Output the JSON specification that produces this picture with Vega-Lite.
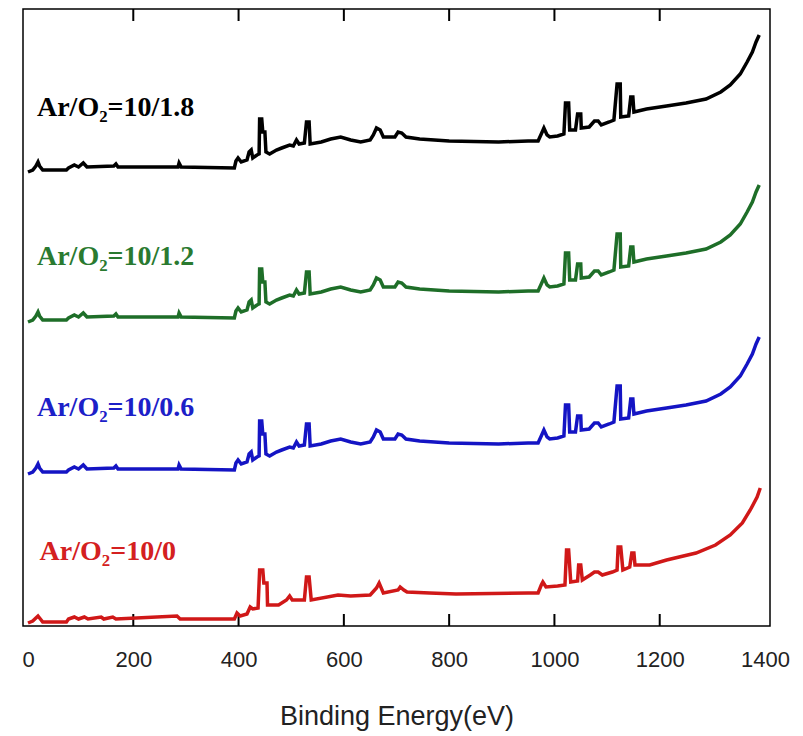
{
  "$schema": "https://vega.github.io/schema/vega-lite/v6.json",
  "width": 747,
  "height": 617,
  "autosize": {"type": "none"},
  "padding": {"left": 23, "top": 9, "right": 33, "bottom": 110},
  "background": "white",
  "config": {
    "view": {"stroke": "#000000", "strokeWidth": 1.5},
    "axis": {
      "domain": false,
      "grid": false,
      "ticks": false,
      "labelFont": "Liberation Sans",
      "labelFontSize": 22,
      "labelColor": "#222222",
      "titleFont": "Liberation Sans",
      "titleFontSize": 27,
      "titleFontWeight": "normal",
      "titleColor": "#222222"
    }
  },
  "datasets": {
    "s18": [{"e":0,"i":454},{"e":9,"i":456},{"e":15,"i":460},{"e":19,"i":464},{"e":22,"i":460},{"e":28,"i":456},{"e":73,"i":456},{"e":77,"i":458},{"e":88,"i":461},{"e":96,"i":459},{"e":105,"i":463},{"e":112,"i":459},{"e":163,"i":460},{"e":167,"i":462},{"e":171,"i":459},{"e":285,"i":459},{"e":287,"i":463},{"e":291,"i":459},{"e":392,"i":458},{"e":395,"i":465},{"e":399,"i":468},{"e":405,"i":464},{"e":416,"i":466},{"e":420,"i":474},{"e":424,"i":476},{"e":427,"i":468},{"e":435,"i":471},{"e":439,"i":472},{"e":440,"i":507},{"e":444,"i":507},{"e":446,"i":494},{"e":450,"i":494},{"e":452,"i":474},{"e":459,"i":472},{"e":472,"i":476},{"e":482,"i":478},{"e":497,"i":481},{"e":504,"i":480},{"e":510,"i":486},{"e":515,"i":482},{"e":525,"i":483},{"e":529,"i":504},{"e":534,"i":504},{"e":536,"i":482},{"e":557,"i":484},{"e":575,"i":487},{"e":594,"i":489},{"e":613,"i":486},{"e":632,"i":484},{"e":650,"i":486},{"e":656,"i":491},{"e":662,"i":498},{"e":669,"i":496},{"e":675,"i":489},{"e":697,"i":489},{"e":703,"i":494},{"e":710,"i":493},{"e":718,"i":489},{"e":744,"i":487},{"e":800,"i":485},{"e":894,"i":484},{"e":950,"i":485},{"e":969,"i":485},{"e":975,"i":492},{"e":980,"i":498},{"e":986,"i":491},{"e":991,"i":489},{"e":1006,"i":490},{"e":1018,"i":492},{"e":1021,"i":523},{"e":1027,"i":523},{"e":1029,"i":496},{"e":1040,"i":496},{"e":1044,"i":512},{"e":1050,"i":512},{"e":1051,"i":498},{"e":1066,"i":499},{"e":1076,"i":505},{"e":1083,"i":505},{"e":1089,"i":501},{"e":1104,"i":504},{"e":1113,"i":506},{"e":1119,"i":542},{"e":1125,"i":542},{"e":1126,"i":509},{"e":1141,"i":510},{"e":1145,"i":529},{"e":1149,"i":529},{"e":1151,"i":514},{"e":1175,"i":517},{"e":1213,"i":520},{"e":1250,"i":523},{"e":1288,"i":527},{"e":1316,"i":534},{"e":1334,"i":541},{"e":1353,"i":552},{"e":1366,"i":564},{"e":1376,"i":574},{"e":1383,"i":584},{"e":1389,"i":591}],
    "s12": [{"e":0,"i":304},{"e":9,"i":306},{"e":15,"i":310},{"e":19,"i":314},{"e":22,"i":310},{"e":28,"i":306},{"e":73,"i":306},{"e":77,"i":308},{"e":88,"i":311},{"e":96,"i":309},{"e":105,"i":313},{"e":112,"i":309},{"e":163,"i":310},{"e":167,"i":312},{"e":171,"i":309},{"e":285,"i":309},{"e":287,"i":313},{"e":291,"i":309},{"e":392,"i":308},{"e":395,"i":315},{"e":399,"i":318},{"e":405,"i":314},{"e":416,"i":316},{"e":420,"i":324},{"e":424,"i":326},{"e":427,"i":318},{"e":435,"i":321},{"e":439,"i":322},{"e":440,"i":357},{"e":444,"i":357},{"e":446,"i":344},{"e":450,"i":344},{"e":452,"i":324},{"e":459,"i":322},{"e":472,"i":326},{"e":482,"i":328},{"e":497,"i":331},{"e":504,"i":330},{"e":510,"i":336},{"e":515,"i":332},{"e":525,"i":333},{"e":529,"i":354},{"e":534,"i":354},{"e":536,"i":332},{"e":557,"i":334},{"e":575,"i":337},{"e":594,"i":339},{"e":613,"i":336},{"e":632,"i":334},{"e":650,"i":336},{"e":656,"i":341},{"e":662,"i":348},{"e":669,"i":346},{"e":675,"i":339},{"e":697,"i":339},{"e":703,"i":344},{"e":710,"i":343},{"e":718,"i":339},{"e":744,"i":337},{"e":800,"i":335},{"e":894,"i":334},{"e":950,"i":335},{"e":969,"i":335},{"e":975,"i":342},{"e":980,"i":348},{"e":986,"i":341},{"e":991,"i":339},{"e":1006,"i":340},{"e":1018,"i":342},{"e":1021,"i":373},{"e":1027,"i":373},{"e":1029,"i":346},{"e":1040,"i":346},{"e":1044,"i":362},{"e":1050,"i":362},{"e":1051,"i":348},{"e":1066,"i":349},{"e":1076,"i":355},{"e":1083,"i":355},{"e":1089,"i":351},{"e":1104,"i":354},{"e":1113,"i":356},{"e":1119,"i":392},{"e":1125,"i":392},{"e":1126,"i":359},{"e":1141,"i":360},{"e":1145,"i":379},{"e":1149,"i":379},{"e":1151,"i":364},{"e":1175,"i":367},{"e":1213,"i":370},{"e":1250,"i":373},{"e":1288,"i":377},{"e":1316,"i":384},{"e":1334,"i":391},{"e":1353,"i":402},{"e":1366,"i":414},{"e":1376,"i":424},{"e":1383,"i":434},{"e":1389,"i":441}],
    "s06": [{"e":0,"i":152},{"e":9,"i":154},{"e":15,"i":158},{"e":19,"i":162},{"e":22,"i":158},{"e":28,"i":154},{"e":73,"i":154},{"e":77,"i":156},{"e":88,"i":159},{"e":96,"i":157},{"e":105,"i":161},{"e":112,"i":157},{"e":163,"i":158},{"e":167,"i":160},{"e":171,"i":157},{"e":285,"i":157},{"e":287,"i":161},{"e":291,"i":157},{"e":392,"i":156},{"e":395,"i":163},{"e":399,"i":166},{"e":405,"i":162},{"e":416,"i":164},{"e":420,"i":172},{"e":424,"i":174},{"e":427,"i":166},{"e":435,"i":169},{"e":439,"i":170},{"e":440,"i":205},{"e":444,"i":205},{"e":446,"i":192},{"e":450,"i":192},{"e":452,"i":172},{"e":459,"i":170},{"e":472,"i":174},{"e":482,"i":176},{"e":497,"i":179},{"e":504,"i":178},{"e":510,"i":184},{"e":515,"i":180},{"e":525,"i":181},{"e":529,"i":202},{"e":534,"i":202},{"e":536,"i":180},{"e":557,"i":182},{"e":575,"i":185},{"e":594,"i":187},{"e":613,"i":184},{"e":632,"i":182},{"e":650,"i":184},{"e":656,"i":189},{"e":662,"i":196},{"e":669,"i":194},{"e":675,"i":187},{"e":697,"i":187},{"e":703,"i":192},{"e":710,"i":191},{"e":718,"i":187},{"e":744,"i":185},{"e":800,"i":183},{"e":894,"i":182},{"e":950,"i":183},{"e":969,"i":183},{"e":975,"i":190},{"e":980,"i":196},{"e":986,"i":189},{"e":991,"i":187},{"e":1006,"i":188},{"e":1018,"i":190},{"e":1021,"i":221},{"e":1027,"i":221},{"e":1029,"i":194},{"e":1040,"i":194},{"e":1044,"i":210},{"e":1050,"i":210},{"e":1051,"i":196},{"e":1066,"i":197},{"e":1076,"i":203},{"e":1083,"i":203},{"e":1089,"i":199},{"e":1104,"i":202},{"e":1113,"i":204},{"e":1119,"i":240},{"e":1125,"i":240},{"e":1126,"i":207},{"e":1141,"i":208},{"e":1145,"i":227},{"e":1149,"i":227},{"e":1151,"i":212},{"e":1175,"i":215},{"e":1213,"i":218},{"e":1250,"i":221},{"e":1288,"i":225},{"e":1316,"i":232},{"e":1334,"i":239},{"e":1353,"i":250},{"e":1366,"i":262},{"e":1376,"i":272},{"e":1383,"i":282},{"e":1389,"i":289}],
    "s00": [{"e":0,"i":3},{"e":9,"i":5},{"e":15,"i":8},{"e":19,"i":10},{"e":22,"i":8},{"e":28,"i":4},{"e":73,"i":4},{"e":77,"i":7},{"e":88,"i":9},{"e":96,"i":7},{"e":107,"i":9},{"e":114,"i":7},{"e":139,"i":9},{"e":144,"i":7},{"e":161,"i":9},{"e":167,"i":7},{"e":283,"i":10},{"e":289,"i":7},{"e":392,"i":7},{"e":397,"i":13},{"e":403,"i":10},{"e":416,"i":12},{"e":422,"i":19},{"e":427,"i":17},{"e":437,"i":18},{"e":440,"i":56},{"e":446,"i":56},{"e":448,"i":43},{"e":454,"i":43},{"e":455,"i":21},{"e":476,"i":21},{"e":491,"i":26},{"e":497,"i":30},{"e":502,"i":26},{"e":525,"i":26},{"e":529,"i":49},{"e":534,"i":49},{"e":538,"i":26},{"e":589,"i":31},{"e":613,"i":30},{"e":650,"i":31},{"e":662,"i":38},{"e":667,"i":43},{"e":675,"i":33},{"e":703,"i":36},{"e":707,"i":39},{"e":714,"i":36},{"e":720,"i":34},{"e":763,"i":33},{"e":813,"i":32},{"e":950,"i":33},{"e":969,"i":33},{"e":975,"i":41},{"e":978,"i":44},{"e":984,"i":39},{"e":1006,"i":40},{"e":1020,"i":41},{"e":1023,"i":76},{"e":1027,"i":76},{"e":1031,"i":44},{"e":1044,"i":45},{"e":1046,"i":61},{"e":1050,"i":61},{"e":1053,"i":46},{"e":1068,"i":51},{"e":1076,"i":54},{"e":1083,"i":54},{"e":1091,"i":51},{"e":1110,"i":54},{"e":1119,"i":56},{"e":1121,"i":79},{"e":1126,"i":79},{"e":1130,"i":56},{"e":1143,"i":59},{"e":1147,"i":73},{"e":1151,"i":73},{"e":1153,"i":61},{"e":1181,"i":61},{"e":1213,"i":66},{"e":1269,"i":73},{"e":1306,"i":81},{"e":1334,"i":91},{"e":1357,"i":103},{"e":1372,"i":116},{"e":1385,"i":129},{"e":1391,"i":138}],
    "labels": [
      {"t": "Ar/O₂=10/1.8", "e": 17, "i": 518, "c": "#000000"},
      {"t": "Ar/O₂=10/1.2", "e": 17, "i": 369, "c": "#2a7a30"},
      {"t": "Ar/O₂=10/0.6", "e": 17, "i": 218, "c": "#1c20c8"},
      {"t": "Ar/O₂=10/0", "e": 22, "i": 74, "c": "#d42020"}
    ],
    "tickmarks": [{"v":200,"lo":0,"hi":12},{"v":400,"lo":0,"hi":12},{"v":600,"lo":0,"hi":12},{"v":800,"lo":0,"hi":12},{"v":1000,"lo":0,"hi":12},{"v":1200,"lo":0,"hi":12},{"v":200,"lo":605,"hi":617},{"v":400,"lo":605,"hi":617},{"v":600,"lo":605,"hi":617},{"v":800,"lo":605,"hi":617},{"v":1000,"lo":605,"hi":617},{"v":1200,"lo":605,"hi":617}]
  },
  "layer": [
    {
      "data": {"name": "tickmarks"},
      "mark": {"type": "bar", "color": "#000000", "width": 2, "opacity": 1},
      "encoding": {
        "x": {"field": "v", "type": "quantitative", "scale": {"domain": [0, 1400], "nice": false},
              "axis": {"orient": "bottom", "values": [0,200,400,600,800,1000,1200,1400], "format": "d", "title": "Binding Energy(eV)", "labelPadding": 23, "titlePadding": 33, "labelFlush": false}},
        "y": {"field": "lo", "type": "quantitative", "scale": {"domain": [0, 617], "nice": false, "zero": false}, "axis": null, "stack": null},
        "y2": {"field": "hi"}
      }
    },
    {
      "data": {"name": "s18"},
      "mark": {"type": "line", "color": "#000000", "strokeWidth": 3.5},
      "encoding": {
        "x": {"field": "e", "type": "quantitative"},
        "y": {"field": "i", "type": "quantitative"}
      }
    },
    {
      "data": {"name": "s12"},
      "mark": {"type": "line", "color": "#1e6e28", "strokeWidth": 3.5},
      "encoding": {
        "x": {"field": "e", "type": "quantitative"},
        "y": {"field": "i", "type": "quantitative"}
      }
    },
    {
      "data": {"name": "s06"},
      "mark": {"type": "line", "color": "#1414c4", "strokeWidth": 3.5},
      "encoding": {
        "x": {"field": "e", "type": "quantitative"},
        "y": {"field": "i", "type": "quantitative"}
      }
    },
    {
      "data": {"name": "s00"},
      "mark": {"type": "line", "color": "#d01818", "strokeWidth": 3.5},
      "encoding": {
        "x": {"field": "e", "type": "quantitative"},
        "y": {"field": "i", "type": "quantitative"}
      }
    },
    {
      "data": {"name": "labels"},
      "mark": {"type": "text", "align": "left", "baseline": "middle", "font": "Liberation Serif", "fontWeight": "bold", "fontSize": 28},
      "encoding": {
        "x": {"field": "e", "type": "quantitative"},
        "y": {"field": "i", "type": "quantitative"},
        "text": {"field": "t"},
        "color": {"field": "c", "type": "nominal", "scale": null}
      }
    }
  ]
}
